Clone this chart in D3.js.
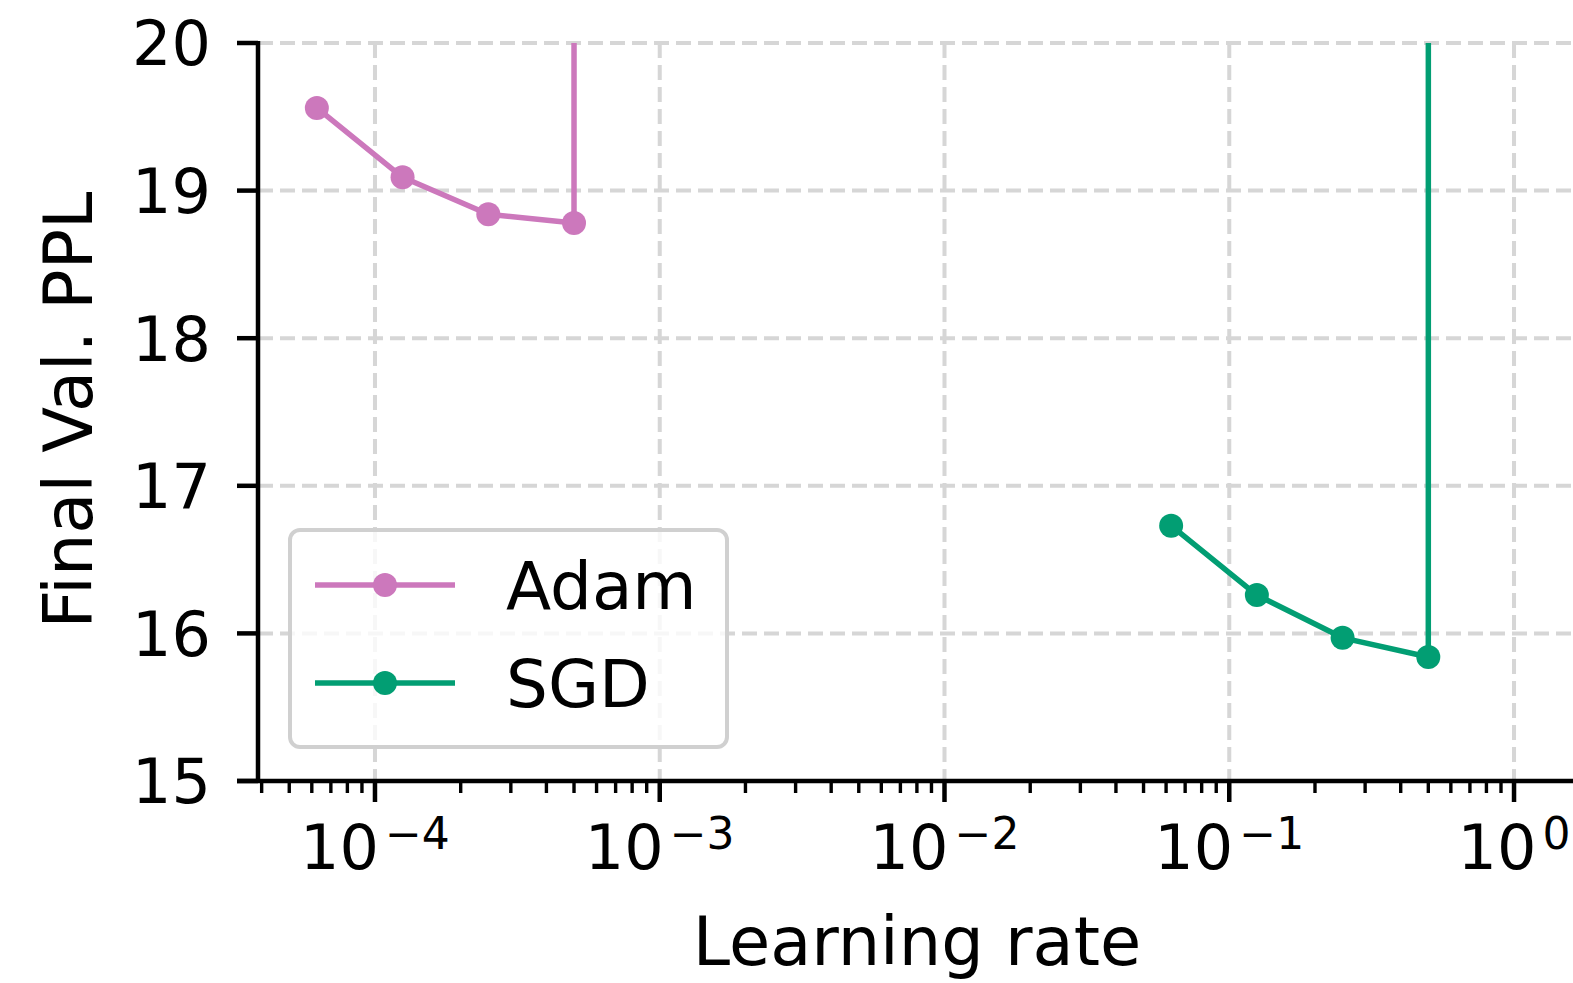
<!DOCTYPE html>
<html>
<head>
<meta charset="utf-8">
<script src="https://cdn.jsdelivr.net/npm/d3@7"></script>
<style>
  body { margin: 0; background: #fff; }
  text { font-family: "DejaVu Sans", sans-serif; fill: #000; }
</style>
</head>
<body>
<div id="chart"></div>
<script>
// learning rates swept per optimiser; last entry of each run diverged (value off the chart)
const adamLr = [6.25e-5, 1.25e-4, 2.5e-4, 5e-4, 1e-3];
const adamPpl = [19.56, 19.09, 18.84, 18.78, 1e4];
const sgdLr = [0.0625, 0.125, 0.25, 0.5, 1.0];
const sgdPpl = [16.73, 16.26, 15.97, 15.84, 1e4];

const seriesNames = ['Adam', 'SGD'];
const seriesColors = ['#cc78bc', '#029e73'];
const xTickExps = [-4, -3, -2, -1, 0];
const yTicks = [15, 16, 17, 18, 19, 20];

const W = 1573, H = 983;
const plotLeft = 258, plotTop = 43, plotBottom = 781;

const svg = d3.select('#chart').append('svg')
  .attr('width', W)
  .attr('height', H);

// x axis runs a little past the y spine on the left and off the right edge
let x = d3.scaleLog().domain([3.277e-5, 1.611]).range([237, W]);
let y = d3.scaleLinear().domain([15, 20]).range([plotBottom, plotTop]);

svg.append('defs').append('clipPath').attr('id', 'plotclip')
  .append('rect')
  .attr('x', plotLeft).attr('y', plotTop)
  .attr('width', W - plotLeft).attr('height', plotBottom - plotTop);

/* grid */
const grid = svg.append('g').attr('class', 'grid');
grid.selectAll('.gx').data(xTickExps).enter().append('line')
  .attr('x1', d => x(Math.pow(10, d))).attr('x2', d => x(Math.pow(10, d)))
  .attr('y1', plotTop).attr('y2', plotBottom)
  .attr('stroke', '#d6d6d6').attr('stroke-width', 4)
  .attr('stroke-dasharray', '15,7');
grid.selectAll('.gy').data(yTicks).enter().append('line')
  .attr('x1', plotLeft).attr('x2', W)
  .attr('y1', d => y(d)).attr('y2', d => y(d))
  .attr('stroke', '#d6d6d6').attr('stroke-width', 4)
  .attr('stroke-dasharray', '15,7');

/* series */
const series = [
  { name: seriesNames[0], color: seriesColors[0], pts: adamLr.map((d, i) => [d, adamPpl[i]]) },
  { name: seriesNames[1], color: seriesColors[1], pts: sgdLr.map((d, i) => [d, sgdPpl[i]]) }
];

const line = d3.line().x(d => x(d[0])).y(d => y(d[1]));
const lines = svg.append('g').attr('clip-path', 'url(#plotclip)');

series.forEach(s => {
  lines.append('path')
    .attr('d', line(s.pts))
    .attr('fill', 'none')
    .attr('stroke', s.color)
    .attr('stroke-width', 5.5)
    .attr('stroke-linejoin', 'round');
  lines.selectAll(null).data(s.pts).enter().append('circle')
    .attr('cx', d => x(d[0]))
    .attr('cy', d => y(d[1]))
    .attr('r', 12)
    .attr('fill', s.color);
});

/* axes */
const axisG = svg.append('g');
// y spine + ticks
axisG.append('line')
  .attr('x1', plotLeft).attr('x2', plotLeft)
  .attr('y1', plotTop - 2).attr('y2', plotBottom + 2)
  .attr('stroke', '#000').attr('stroke-width', 4.5);
axisG.selectAll('.yt').data(yTicks).enter().append('line')
  .attr('x1', plotLeft - 21).attr('x2', plotLeft)
  .attr('y1', d => y(d)).attr('y2', d => y(d))
  .attr('stroke', '#000').attr('stroke-width', 4.5);
axisG.selectAll('.yl').data(yTicks).enter().append('text')
  .attr('x', 211)
  .attr('y', d => y(d))
  .attr('dy', '0.36em')
  .attr('text-anchor', 'end')
  .style('font-size', '62px')
  .text(d => d);

// x spine + ticks
axisG.append('line')
  .attr('x1', 237).attr('x2', W)
  .attr('y1', plotBottom).attr('y2', plotBottom)
  .attr('stroke', '#000').attr('stroke-width', 4.5);

let minor = [];
for (let e = -5; e <= 0; e++) {
  for (let m = 2; m <= 9; m++) {
    const v = m * Math.pow(10, e);
    if (v >= x.domain()[0] && v <= x.domain()[1]) minor.push(v);
  }
}
axisG.selectAll('.xm').data(minor).enter().append('line')
  .attr('x1', d => x(d)).attr('x2', d => x(d))
  .attr('y1', plotBottom).attr('y2', plotBottom + 12)
  .attr('stroke', '#000').attr('stroke-width', 3.4);
axisG.selectAll('.xt').data(xTickExps).enter().append('line')
  .attr('x1', d => x(Math.pow(10, d))).attr('x2', d => x(Math.pow(10, d)))
  .attr('y1', plotBottom).attr('y2', plotBottom + 21)
  .attr('stroke', '#000').attr('stroke-width', 4.5);

const xl = axisG.selectAll('.xl').data(xTickExps).enter().append('text')
  .attr('x', d => x(Math.pow(10, d)))
  .attr('y', 869)
  .attr('text-anchor', 'middle')
  .style('font-size', '62px');
xl.append('tspan').text('10');
xl.append('tspan')
  .attr('dx', 6)
  .attr('dy', -20)
  .style('font-size', '44px')
  .text(d => (d < 0 ? '\u2212' + (-d) : d));

/* axis titles */
svg.append('text')
  .attr('x', 917).attr('y', 965)
  .attr('text-anchor', 'middle')
  .style('font-size', '67px')
  .text('Learning rate');

svg.append('text')
  .attr('transform', 'translate(92,410) rotate(-90)')
  .attr('text-anchor', 'middle')
  .style('font-size', '67px')
  .text('Final Val. PPL');

/* legend */
const lg = svg.append('g').attr('transform', 'translate(290,530)');
lg.append('rect')
  .attr('x', 0).attr('y', 0)
  .attr('width', 437).attr('height', 217)
  .attr('rx', 10).attr('ry', 10)
  .attr('fill', 'rgba(255,255,255,0.8)')
  .attr('stroke', '#d0d0d0').attr('stroke-width', 4);

series.forEach((s, i) => {
  const cy = 55 + i * 98;
  lg.append('line')
    .attr('x1', 25).attr('x2', 165)
    .attr('y1', cy).attr('y2', cy)
    .attr('stroke', s.color).attr('stroke-width', 5.5);
  lg.append('circle')
    .attr('cx', 95).attr('cy', cy).attr('r', 12)
    .attr('fill', s.color);
  lg.append('text')
    .attr('x', 216).attr('y', cy)
    .attr('dy', '0.36em')
    .style('font-size', '66px')
    .text(s.name);
});
</script>
</body>
</html>
